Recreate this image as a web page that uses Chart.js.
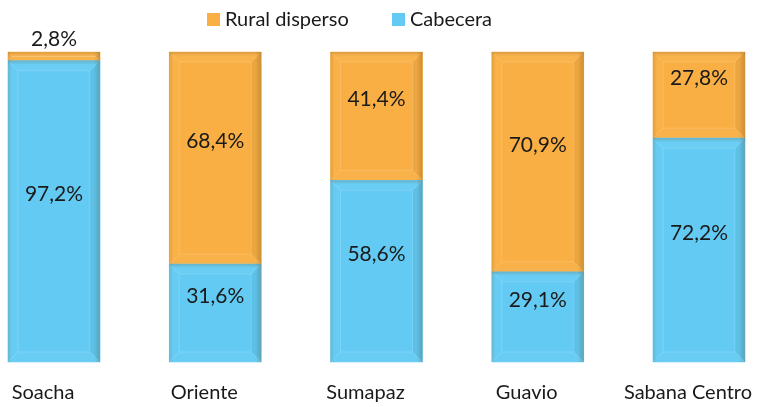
<!DOCTYPE html>
<html>
<head>
<meta charset="utf-8">
<script src="https://cdn.jsdelivr.net/npm/chart.js@4"></script>
<style>
  body { margin: 0; background: #fff; }
  #wrap { width: 758px; height: 407px; position: relative; }
</style>
</head>
<body>
<div id="wrap"><canvas id="chart"></canvas></div>
<script>
// datos
const categorias = ["Soacha", "Oriente", "Sumapaz", "Guavio", "Sabana Centro"];
const cabecera = [97.2, 31.6, 58.6, 29.1, 72.2];
const ruralDisperso = [2.8, 68.4, 41.4, 70.9, 27.8];

const FONT = "Lato, 'Open Sans', sans-serif";
const AZUL = "#63CBF3";
const NARANJA = "#F9AF43";

function fmt(v) {
    return v.toFixed(1).replace(".", ",") + "%";
}

function poly(ctx, pts, color) {
    ctx.fillStyle = color;
    ctx.beginPath();
    ctx.moveTo(pts[0][0], pts[0][1]);
    for (let k = 1; k < pts.length; k++) ctx.lineTo(pts[k][0], pts[k][1]);
    ctx.closePath();
    ctx.fill();
}

// efecto de bisel en las barras
const biselPlugin = {
    id: "bisel",
    afterDatasetsDraw(chart) {
        const ctx = chart.ctx;
        chart.data.datasets.forEach((ds, di) => {
            const meta = chart.getDatasetMeta(di);
            meta.data.forEach(bar => {
                const p = bar.getProps(["x", "y", "base", "width"], true);
                const l = p.x - p.width / 2, r = p.x + p.width / 2;
                const t = Math.min(p.y, p.base), b = Math.max(p.y, p.base);
                const bw = Math.min(10, (b - t) / 2);
                ctx.save();
                poly(ctx, [[l, t], [r, t], [r - bw, t + bw], [l + bw, t + bw]], "rgba(255,255,255,0.05)");
                poly(ctx, [[l, t], [l + bw, t + bw], [l + bw, b - bw], [l, b]], "rgba(255,255,255,0.03)");
                poly(ctx, [[r, t], [r - bw, t + bw], [r - bw, b - bw], [r, b]], "rgba(0,0,0,0.05)");
                poly(ctx, [[l, b], [l + bw, b - bw], [r - bw, b - bw], [r, b]], "rgba(255,255,255,0.04)");
                // sombra suave en los bordes
                const gr = ctx.createLinearGradient(r - 6, 0, r, 0);
                gr.addColorStop(0, "rgba(90,60,20,0)");
                gr.addColorStop(1, "rgba(90,60,20,0.22)");
                ctx.fillStyle = gr;
                ctx.fillRect(r - 6, t, 6, b - t);
                const gl = ctx.createLinearGradient(l, 0, l + 4, 0);
                gl.addColorStop(0, "rgba(90,60,20,0.14)");
                gl.addColorStop(1, "rgba(90,60,20,0)");
                ctx.fillStyle = gl;
                ctx.fillRect(l, t, 4, b - t);
                const gt = ctx.createLinearGradient(0, t, 0, t + 4);
                gt.addColorStop(0, "rgba(90,60,20,0.18)");
                gt.addColorStop(1, "rgba(90,60,20,0)");
                ctx.fillStyle = gt;
                ctx.fillRect(l, t, p.width, Math.min(4, b - t));
                // lineas claras del bisel
                ctx.strokeStyle = "rgba(255,255,255,0.2)";
                ctx.lineWidth = 0.8;
                ctx.beginPath();
                ctx.moveTo(l + 1, t + 1); ctx.lineTo(l + bw, t + bw);
                ctx.moveTo(r - 1, t + 1); ctx.lineTo(r - bw, t + bw);
                ctx.moveTo(l + 1, b - 1); ctx.lineTo(l + bw, b - bw);
                ctx.moveTo(r - 1, b - 1); ctx.lineTo(r - bw, b - bw);
                ctx.rect(l + bw, t + bw, p.width - 2 * bw, b - t - 2 * bw);
                ctx.stroke();
                ctx.restore();
            });
        });
    }
};

// etiquetas de valores
const etiquetasPlugin = {
    id: "etiquetas",
    afterDatasetsDraw(chart) {
        const ctx = chart.ctx;
        ctx.save();
        ctx.font = "21px " + FONT;
        ctx.fillStyle = "#1a1a1a";
        ctx.textAlign = "center";
        ctx.textBaseline = "middle";
        chart.data.datasets.forEach((ds, di) => {
            const meta = chart.getDatasetMeta(di);
            meta.data.forEach((bar, i) => {
                const p = bar.getProps(["x", "y", "base"], true);
                const h = Math.abs(p.base - p.y);
                let y = (p.y + p.base) / 2 - 17;
                if (h < 30) y = Math.min(p.y, p.base) - 13;
                ctx.fillText(fmt(ds.data[i]), p.x, y);
            });
        });
        ctx.restore();
    }
};

// leyenda
const leyendaPlugin = {
    id: "leyenda",
    afterDraw(chart) {
        const ctx = chart.ctx;
        const items = [["Rural disperso", NARANJA, 207], ["Cabecera", AZUL, 392]];
        ctx.save();
        ctx.font = "20px " + FONT;
        ctx.textBaseline = "middle";
        items.forEach(([txt, col, x]) => {
            ctx.fillStyle = col;
            ctx.fillRect(x, 13, 13, 13);
            ctx.fillStyle = "#1a1a1a";
            ctx.fillText(txt, x + 18, 20);
        });
        ctx.restore();
    }
};

new Chart(document.getElementById("chart"), {
    type: "bar",
    data: {
        labels: categorias,
        datasets: [
            { label: "Cabecera", data: cabecera, backgroundColor: AZUL, barThickness: 92, clip: false },
            { label: "Rural disperso", data: ruralDisperso, backgroundColor: NARANJA, barThickness: 92, clip: false }
        ]
    },
    options: {
        responsive: true,
        maintainAspectRatio: false,
        animation: false,
        layout: { padding: { left: 54, right: 59, top: 52, bottom: 0 } },
        plugins: { legend: { display: false }, tooltip: { enabled: false } },
        scales: {
            x: {
                stacked: true,
                offset: false,
                grid: { display: false, drawTicks: false },
                border: { display: false },
                ticks: { color: "#1a1a1a", font: { family: FONT, size: 20 }, padding: 19, labelOffset: -11, maxRotation: 0 },
                afterFit(s) { s.paddingLeft = 0; s.paddingRight = 0; s.height = 45; }
            },
            y: {
                stacked: true,
                display: false,
                min: 0,
                max: 100
            }
        }
    },
    plugins: [biselPlugin, etiquetasPlugin, leyendaPlugin]
});
</script>
</body>
</html>
